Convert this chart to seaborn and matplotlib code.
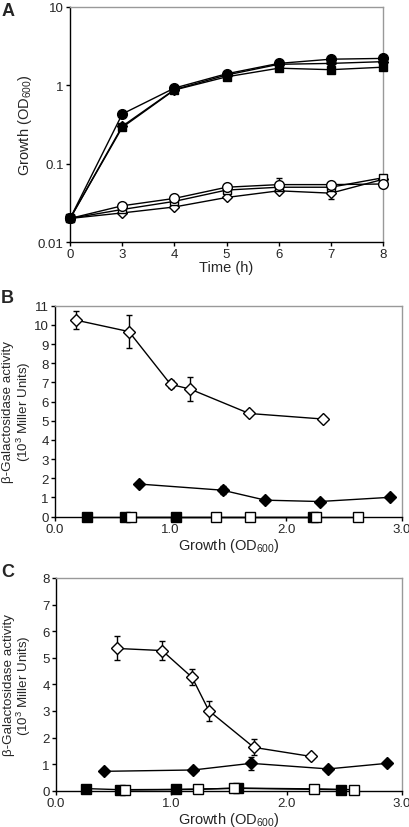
import matplotlib
matplotlib.use("Agg")
import matplotlib.pyplot as plt
import seaborn as sns
import numpy as np
import pandas as pd

sns.set_theme(style="white")
plt.rcParams['font.family'] = ['Liberation Sans', 'DejaVu Sans']
plt.rcParams['mathtext.fontset'] = 'custom'
plt.rcParams['mathtext.rm'] = 'Liberation Sans'
plt.rcParams['mathtext.it'] = 'Liberation Sans:italic'

# ---------------- Panel A data ----------------
times = [0, 3, 4, 5, 6, 7, 8]
a_fill_circle = [0.02, 0.43, 0.92, 1.40, 1.90, 2.15, 2.20]
a_fill_diamond = [0.02, 0.30, 0.88, 1.35, 1.85, 1.90, 2.00]
a_fill_square = [0.02, 0.29, 0.87, 1.28, 1.65, 1.58, 1.70]
a_open_circle = [0.02, 0.029, 0.036, 0.050, 0.054, 0.054, 0.055]
a_open_square = [0.02, 0.026, 0.033, 0.046, 0.050, 0.050, 0.066]
a_open_diamond = [0.02, 0.0235, 0.028, 0.037, 0.045, 0.042, 0.063]
a_open_circle_err = [0, 0, 0, 0, 0.011, 0, 0]
a_open_diamond_err = [0, 0, 0, 0, 0, 0.007, 0]

# ---------------- Panel B data ----------------
b_od_open_diamond = [0.18, 0.64, 1.00, 1.17, 1.68, 2.32]
b_open_diamond = [10.25, 9.65, 6.90, 6.65, 5.38, 5.09]
b_open_diamond_err = [0.45, 0.87, 0.20, 0.63, 0.0, 0.0]
b_od_fill_diamond = [0.73, 1.45, 1.82, 2.29, 2.90]
b_fill_diamond = [1.70, 1.38, 0.86, 0.79, 1.01]
b_fill_diamond_err = [0.0, 0.20, 0.0, 0.0, 0.0]
b_od_fill_square = [0.28, 0.61, 1.05, 2.23]
b_fill_square = [0.0, 0.0, 0.0, 0.0]
b_od_open_square = [0.66, 1.39, 1.69, 2.26, 2.62]
b_open_square = [0.0, 0.0, 0.0, 0.0, 0.0]

# ---------------- Panel C data ----------------
c_od_open_diamond = [0.525, 0.92, 1.18, 1.325, 1.715, 2.21]
c_open_diamond = [5.35, 5.27, 4.26, 3.01, 1.63, 1.29]
c_open_diamond_err = [0.45, 0.37, 0.30, 0.37, 0.30, 0.10]
c_od_fill_diamond = [0.42, 1.19, 1.69, 2.36, 2.87]
c_fill_diamond = [0.73, 0.78, 1.03, 0.82, 1.03]
c_fill_diamond_err = [0.0, 0.0, 0.25, 0.0, 0.0]
c_od_fill_square = [0.26, 0.555, 1.04, 1.58, 2.475]
c_fill_square = [0.08, 0.04, 0.05, 0.09, 0.04]
c_od_open_square = [0.60, 1.23, 1.545, 2.24, 2.58]
c_open_square = [0.03, 0.05, 0.10, 0.07, 0.04]

fig = plt.figure(figsize=(4.10, 8.28), dpi=100)
axA = fig.add_axes([0.171, 0.7065, 0.763, 0.284])
axB = fig.add_axes([0.134, 0.3748, 0.846, 0.2548])
axC = fig.add_axes([0.1366, 0.0438, 0.844, 0.257])

TICK_FS = 9.5
XLAB_FS = 10.5
YLAB_FS = 9.6


def series(ax, x, y, marker, filled, ms=6.5, err=None, z=3):
    fc = 'black' if filled else 'white'
    sns.lineplot(x=x, y=y, ax=ax, color='black', linewidth=1.0, marker=marker,
                 markersize=ms, markerfacecolor=fc, markeredgecolor='black',
                 markeredgewidth=1.0, sort=False, zorder=z)
    if err is not None:
        ax.errorbar(x, y, yerr=err, fmt='none', ecolor='black', elinewidth=1.0,
                    capsize=2.5, capthick=1.0, zorder=z - 1)


def style(ax):
    for s in ['left', 'bottom']:
        ax.spines[s].set_color('black')
        ax.spines[s].set_linewidth(1.0)
    for s in ['top', 'right']:
        ax.spines[s].set_color('#999999')
        ax.spines[s].set_linewidth(1.0)
    ax.tick_params(axis='both', which='major', direction='out', length=3,
                   width=1.0, color='black', labelsize=TICK_FS, pad=1.5,
                   left=True, bottom=True)
    ax.grid(False)


# ---- Panel A ----
pos = list(range(len(times)))
series(axA, pos, a_open_diamond, 'D', False, ms=5.5, err=a_open_diamond_err)
series(axA, pos, a_open_square, 's', False, ms=6)
series(axA, pos, a_open_circle, 'o', False, ms=7, err=a_open_circle_err)
series(axA, pos, a_fill_square, 's', True, ms=6)
series(axA, pos, a_fill_diamond, 'D', True, ms=5.5)
series(axA, pos, a_fill_circle, 'o', True, ms=7)
axA.set_yscale('log')
axA.set_ylim(0.01, 10)
axA.set_xlim(0, len(times) - 1)
axA.set_xticks(pos)
axA.set_xticklabels([str(t) for t in times])
axA.set_yticks([0.01, 0.1, 1, 10])
axA.set_yticklabels(['0.01', '0.1', '1', '10'])
axA.minorticks_off()
axA.set_xlabel('Time (h)', fontsize=XLAB_FS, labelpad=0)
axA.set_ylabel('Growth (OD$_{600}$)', fontsize=XLAB_FS, labelpad=3)
style(axA)

# ---- Panel B ----
series(axB, b_od_fill_square, b_fill_square, 's', True, ms=6.5)
series(axB, b_od_open_square, b_open_square, 's', False, ms=6.5)
series(axB, b_od_fill_diamond, b_fill_diamond, 'D', True, ms=6.5, err=b_fill_diamond_err)
series(axB, b_od_open_diamond, b_open_diamond, 'D', False, ms=6.5, err=b_open_diamond_err)
axB.set_xlim(0, 3.0)
axB.set_ylim(0, 11)
axB.set_xticks([0.0, 1.0, 2.0, 3.0])
axB.set_xticklabels(['0.0', '1.0', '2.0', '3.0'])
axB.set_yticks(range(0, 12))
axB.set_xlabel('Growth (OD$_{600}$)', fontsize=XLAB_FS, labelpad=1)
axB.set_ylabel('β-Galactosidase activity\n(10$^3$ Miller Units)', fontsize=YLAB_FS,
               linespacing=1.0, va='center', ha='center')
axB.yaxis.set_label_coords(-0.108, 0.5)
style(axB)

# ---- Panel C ----
series(axC, c_od_fill_square, c_fill_square, 's', True, ms=6.5)
series(axC, c_od_open_square, c_open_square, 's', False, ms=6.5)
series(axC, c_od_fill_diamond, c_fill_diamond, 'D', True, ms=6.5, err=c_fill_diamond_err)
series(axC, c_od_open_diamond, c_open_diamond, 'D', False, ms=6.5, err=c_open_diamond_err)
axC.set_xlim(0, 3.0)
axC.set_ylim(0, 8)
axC.set_xticks([0.0, 1.0, 2.0, 3.0])
axC.set_xticklabels(['0.0', '1.0', '2.0', '3.0'])
axC.set_yticks(range(0, 9))
axC.set_xlabel('Growth (OD$_{600}$)', fontsize=XLAB_FS, labelpad=1)
axC.set_ylabel('β-Galactosidase activity\n(10$^3$ Miller Units)', fontsize=YLAB_FS,
               linespacing=1.0, va='center', ha='center')
axC.yaxis.set_label_coords(-0.110, 0.5)
style(axC)

for a in [axA, axB, axC]:
    for ln in a.lines:
        ln.set_clip_on(False)

# Panel letters
fig.text(0.003, 0.986, 'A', fontsize=13, fontweight='bold', va='center', ha='left')
fig.text(0.003, 0.640, 'B', fontsize=13, fontweight='bold', va='center', ha='left')
fig.text(0.003, 0.308, 'C', fontsize=13, fontweight='bold', va='center', ha='left')

fig.savefig('out.png', dpi=100)
